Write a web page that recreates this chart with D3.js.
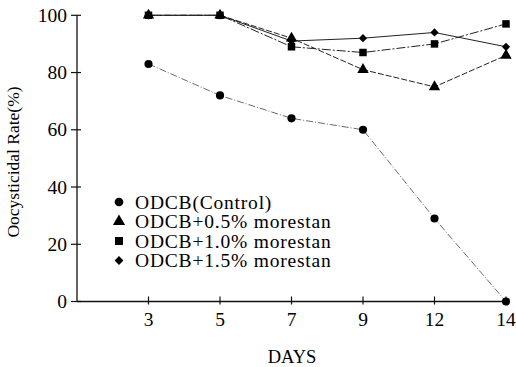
<!DOCTYPE html>
<html>
<head>
<meta charset="utf-8">
<script src="https://cdn.jsdelivr.net/npm/d3@7"></script>
<style>
  body { margin: 0; background: #fff; }
  text { font-family: "Liberation Serif", "Times New Roman", serif; fill: #000; }
</style>
</head>
<body>
<div class="container"></div>
<script>
const size = { width: 516, height: 367 };

const days = ["3", "5", "7", "9", "12", "14"];
const control = [83, 72, 64, 60, 29, 0];
const more05 = [100, 100, 92, 81, 75, 86];
const more10 = [100, 100, 89, 87, 90, 97];
const more15 = [100, 100, 91, 92, 94, 89];
const yTicks = [0, 20, 40, 60, 80, 100];

const seriesNames = ["ODCB(Control)", "ODCB+0.5% morestan", "ODCB+1.0% morestan", "ODCB+1.5% morestan"];

const series = [
  { name: seriesNames[0], values: control, symbol: d3.symbolCircle, area: 52, rot: 0, dash: "7,2,1,2", width: 0.8, stroke: "#444" },
  { name: seriesNames[1], values: more05, symbol: d3.symbolTriangle, area: 56, rot: 0, dash: "6,2", width: 1, stroke: "#222" },
  { name: seriesNames[2], values: more10, symbol: d3.symbolSquare, area: 56, rot: 0, dash: "9,2,2,2", width: 1, stroke: "#222" },
  { name: seriesNames[3], values: more15, symbol: d3.symbolSquare, area: 34, rot: 45, dash: null, width: 1, stroke: "#222" }
];

const svg = d3.select(".container")
  .append("svg")
  .attr("width", size.width)
  .attr("height", size.height);

// index -1 sits on the y axis
const x = d3.scaleLinear().domain([-1, days.length - 1]).range([77, 506]);
const y = d3.scaleLinear().domain([0, 100]).range([301.5, 15.3]);

// axes
svg.append("line")
  .attr("x1", x(-1)).attr("x2", x(-1))
  .attr("y1", y(100)).attr("y2", y(0))
  .attr("stroke", "#111").attr("stroke-width", 1.3);
svg.append("line")
  .attr("x1", x(-1)).attr("x2", x(days.length - 1))
  .attr("y1", y(0)).attr("y2", y(0))
  .attr("stroke", "#111").attr("stroke-width", 1.3);

svg.selectAll(".ytick")
  .data(yTicks)
  .enter().append("line")
  .attr("x1", x(-1) - 6).attr("x2", x(-1) + 4)
  .attr("y1", d => y(d)).attr("y2", d => y(d))
  .attr("stroke", "#111").attr("stroke-width", 1.2);

svg.selectAll(".ylab")
  .data(yTicks)
  .enter().append("text")
  .attr("x", 67)
  .attr("y", d => y(d) + 6.5)
  .attr("text-anchor", "end")
  .attr("font-size", 19.5)
  .text(d => d);

svg.selectAll(".xtick")
  .data(days)
  .enter().append("line")
  .attr("x1", (d, i) => x(i)).attr("x2", (d, i) => x(i))
  .attr("y1", y(0) - 5).attr("y2", y(0) + 3)
  .attr("stroke", "#111").attr("stroke-width", 1.2);

svg.selectAll(".xlab")
  .data(days)
  .enter().append("text")
  .attr("x", (d, i) => x(i))
  .attr("y", 325.5)
  .attr("text-anchor", "middle")
  .attr("font-size", 19.5)
  .text(d => d);

// lines and markers
const line = d3.line()
  .x((d, i) => x(i))
  .y(d => y(d));

series.forEach(s => {
  svg.append("path")
    .attr("d", line(s.values))
    .attr("fill", "none")
    .attr("stroke", s.stroke)
    .attr("stroke-width", s.width)
    .attr("stroke-dasharray", s.dash);
});

series.forEach(s => {
  svg.selectAll(null)
    .data(s.values)
    .enter().append("path")
    .attr("d", d3.symbol().type(s.symbol).size(s.area))
    .attr("transform", (d, i) => `translate(${x(i)},${y(d)}) rotate(${s.rot})`)
    .attr("fill", "#000");
});

// legend
const legend = svg.append("g");
series.forEach((s, i) => {
  const ly = 202 + i * 19.5;
  legend.append("path")
    .attr("d", d3.symbol().type(s.symbol).size(s.area * 1.15))
    .attr("transform", `translate(119,${ly}) rotate(${s.rot})`)
    .attr("fill", "#000");
  legend.append("text")
    .attr("x", 135)
    .attr("y", ly + 6.5)
    .attr("font-size", 19.5)
    .attr("letter-spacing", 0.8)
    .text(s.name);
});

// axis titles
svg.append("text")
  .attr("transform", "translate(19,162) rotate(-90)")
  .attr("text-anchor", "middle")
  .attr("font-size", 17.5)
  .text("Oocysticidal Rate(%)");

svg.append("text")
  .attr("x", 292)
  .attr("y", 363)
  .attr("text-anchor", "middle")
  .attr("font-size", 18.5)
  .text("DAYS");
</script>
</body>
</html>
